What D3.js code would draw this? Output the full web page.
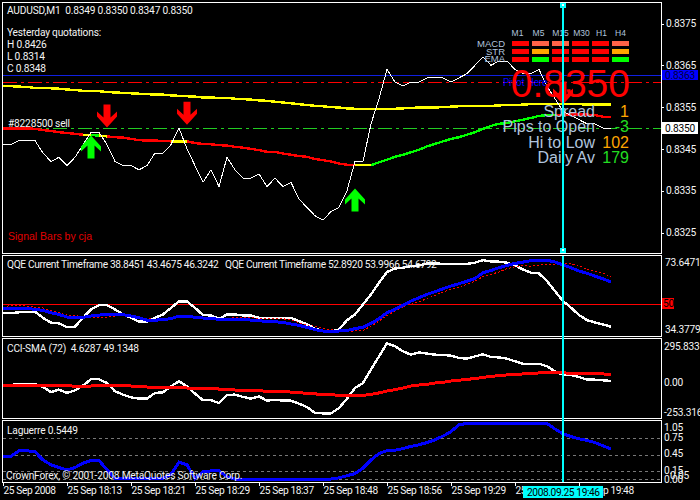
<!DOCTYPE html>
<html><head><meta charset="utf-8">
<script src="https://d3js.org/d3.v7.min.js"></script>
<style>
html,body{margin:0;padding:0;background:#000;overflow:hidden}
svg{display:block}
text{font-family:Roboto,"Liberation Sans",sans-serif;font-size:10.2px;fill:#f4f4f4;letter-spacing:-0.2px}
</style></head><body><div id="c"></div>
<script>
const closePrices=[.8346,.8346,.8347,.8347,.8347,.8344,.8342,.8343,.8341,.8343,.8346,.8349,.8349,.8346,.8342,.8341,.8341,.8340,.8341,.8344,.8344,.8346,.8350,.8345,.8341,.8337,.8340,.8336,.8343,.8340,.8338,.8338,.8339,.8336,.8338,.8336,.8337,.8333,.8331,.8329,.8328,.8330,.8331,.8335,.8342,.8342,.8351,.8357,.8364,.8361,.8360,.8361,.8361,.8362,.8362,.8362,.8361,.8362,.8363,.8365,.8367,.8365,.8366,.8366,.8364,.8363,.8363,.8364,.8360,.8357,.8354,.8353,.8352,.8351,.8351,.8350,.8350];
const slowMA=[.83601,.83600,.83599,.83598,.83596,.83596,.83595,.83594,.83592,.83591,.83589,.83589,.83588,.83586,.83585,.83584,.83583,.83582,.83581,.83580,.83580,.83578,.83577,.83576,.83575,.83573,.83573,.83572,.83572,.83570,.83569,.83568,.83566,.83565,.83563,.83561,.83559,.83557,.83555,.83553,.83552,.83550,.83549,.83547,.83546,.83546,.83546,.83546,.83546,.83546,.83547,.83548,.83549,.83549,.83549,.83550,.83551,.83552,.83552,.83553,.83553,.83553,.83554,.83555,.83555,.83556,.83557,.83557,.83557,.83557,.83557,.83557,.83557,.83556,.83556,.83556,.83556];
const trendMA=[.83499,.83499,.83499,.83499,.83498,.83495,.83493,.83490,.83488,.83486,.83484,.83483,.83482,.83480,.83478,.83477,.83474,.83471,.83470,.83470,.83469,.83468,.83468,.83468,.83464,.83462,.83461,.83459,.83458,.83455,.83453,.83450,.83447,.83443,.83443,.83439,.83436,.83433,.83431,.83426,.83423,.83420,.83415,.83412,.83411,.83411,.83411,.83418,.83424,.83431,.83436,.83442,.83448,.83456,.83462,.83468,.83474,.83478,.83484,.83490,.83498,.83505,.83510,.83512,.83516,.83520,.83524,.83529,.83531,.83531,.83532,.83532,.83532,.83532,.83531,.83527,.83527];
const trendStates=[["#ff0000",0,76],["#ffff00",10,13],["#ffff00",21,23],["#00ff00",11,12],["#ffff00",44,46],["#00ff00",46,69]];
const priceTicks=[.8375,.8365,.8355,.8345,.8335,.8325];
const pivotLevel=.83626, resistLevel=.8361, bidLevel=.8350;
const upArrows=[[11,.83482],[44,.83355]];
const downArrows=[[13,.83501],[23,.83508],[70,.83556]];
const qqeFast=[45.1,45.1,45.5,45.8,45.8,42.7,40.2,39.8,37.9,38.1,42.7,47.0,49.2,49.2,47.0,44.4,42.7,40.7,40.7,42.7,44.4,47.8,51.1,51.1,47.8,44.1,43.9,42.2,44.4,44.4,43.9,43.9,42.7,42.7,42.7,42.7,42.7,41.0,39.3,37.1,35.9,35.7,36.7,41.5,44.4,49.6,54.7,60.7,66.2,68.0,68.4,69.2,69.6,70.6,70.6,70.4,70.3,70.3,70.4,71.0,72.3,71.6,71.5,71.0,69.6,67.5,65.8,65.5,61.5,56.4,51.3,47.9,44.1,41.5,40.3,39.3,38.1];
const qqeSlow=[47.5,47.5,47.5,47.5,47.0,46.5,45.3,44.4,43.1,42.9,42.9,43.6,44.1,44.3,44.4,44.3,43.6,42.7,41.5,41.4,41.9,42.2,43.6,43.6,42.9,42.6,42.2,42.0,42.0,42.0,41.9,41.5,41.2,40.8,40.7,40.3,39.5,38.8,37.8,36.6,35.9,35.9,35.9,36.2,37.1,37.9,39.8,42.2,45.3,47.0,49.1,51.3,53.0,54.7,56.1,57.6,59.0,60.2,61.5,62.9,65.8,67.0,68.4,69.6,70.6,71.3,72.0,72.3,72.3,71.3,69.8,68.4,66.7,65.5,64.1,62.7,61.0];
const qqeSignal=[47.9,49.2,49.1,48.7,48.2,47.7,46.5,45.3,44.1,44.1,42.9,42.9,43.1,43.1,43.6,43.9,43.8,42.9,42.4,41.9,41.9,42.4,42.9,43.1,42.9,42.7,42.6,42.4,42.2,42.9,42.9,42.9,42.4,42.2,42.2,42.2,41.5,40.2,39.1,38.3,37.2,36.6,36.0,35.4,36.0,36.2,38.4,41.0,43.9,46.1,48.4,50.1,50.8,52.6,54.2,55.9,57.3,58.5,59.8,61.5,63.8,65.0,66.2,67.9,68.9,69.6,69.2,69.8,69.8,70.3,70.4,70.4,69.6,67.5,66.7,65.7,63.8];
const cciLine=[-28,-24,-17,-17,-17,-38,-73,-56,-79,-61,-28,16,16,-10,-68,-91,-110,-119,-119,-79,-75,-33,2,-33,-84,-130,-130,-149,-93,-91,-107,-119,-103,-133,-126,-133,-133,-154,-177,-218,-221,-221,-184,-119,-45,-10,83,175,266,245,210,187,203,194,187,185,180,164,159,175,189,171,168,159,141,124,124,124,106,71,48,46,32,13,13,9,4];
const cciSma=[-26,-26,-26,-26,-26,-26,-26,-26,-28,-33,-33,-31,-26,-26,-26,-28,-31,-33,-38,-40,-40,-42,-42,-45,-47,-49,-49,-52,-54,-59,-61,-61,-63,-68,-70,-70,-73,-77,-82,-86,-89,-91,-96,-98,-96,-96,-89,-79,-66,-56,-45,-31,-24,-19,-10,-5,4,9,16,20,29,36,41,46,48,53,55,60,62,62,62,55,55,55,55,53,48];
const laguerre=[.42,.42,.52,.52,.50,.35,.26,.21,.17,.21,.29,.34,.34,.17,.01,.01,.01,.01,.01,.01,.01,.09,.31,.26,.01,.13,.15,.15,.04,0,0,0,0,0,0,0,0,0,0,0,0,0,.02,.06,.10,.20,.35,.47,.52,.53,.56,.60,.63,.67,.72,.79,.87,1.0,1.02,1.02,1.02,1.02,1.02,1.02,1.02,1.02,1.02,1.02,1.02,.92,.83,.78,.74,.71,.67,.61,.55];
const laguerreLevels=[.75,.45,.15,0];
const timeTickBars=[0,8,16,24,32,40,48,56,64,72];
const timeTickLabels=["25 Sep 2008","25 Sep 18:13","25 Sep 18:21","25 Sep 18:29","25 Sep 18:37","25 Sep 18:48","25 Sep 18:56","25 Sep 19:29","25 Sep 19:37","25 Sep 19:48"];
const timeframes=["M1","M5","M15","M30","H1","H4"];
const signalRows=["MACD","STR","EMA"];
const macdColors=["#ff0000","#ff6347","#ff6347","#ff0000","#ff0000","#ff6347"];
const strColors=["#ff0000","#ffa500","#ff0000","#ff0000","#ff0000","#ffa500"];
const emaColors=["#ff0000","#00ff00","#ff0000","#ff0000","#ff0000","#00ff00"];
const statLabels=["Spread","Pips to Open","Hi to Low","Daily Av"];
const statValues=["1","-3","102","179"];
const statColors=["#ffa500","#22dd22","#ffa500","#22dd22"];

const svg=d3.select("#c").append("svg").attr("width",700).attr("height",500);
svg.append("rect").attr("width",700).attr("height",500).attr("fill","#000");
const crisp=s=>s.attr("shape-rendering","crispEdges");
const R=661;
const ARIAL='"Liberation Sans",Arial,sans-serif';
const x=d3.scaleLinear().domain([0,76]).range([3,611]);
const yP=d3.scaleLinear().domain([.8325,.8375]).range([232.5,23.5]);
const yQ=d3.scaleLinear().domain([34.3779,73.6471]).range([334,257.5]);
const yC=d3.scaleLinear().domain([-253.316,295.8335]).range([418,339]);
const yL=d3.scaleLinear().domain([0,1.05]).range([479,421.9]);

[[2.5,253.5],[255.5,336.5],[338.5,418.5],[420.5,482.5]].forEach(([a,b])=>{
  crisp(svg.append("rect").attr("x",2.5).attr("y",a).attr("width",R-2.5+.5).attr("height",b-a)
   .attr("fill","none").attr("stroke","#fff"));
});
const hline=(y,col,dash,w=1,x2=R)=>crisp(svg.append("line").attr("x1",3).attr("x2",x2).attr("y1",y).attr("y2",y)
   .attr("stroke",col).attr("stroke-width",w).attr("stroke-dasharray",dash||null));
const drawLine=(vals,yS,col,w,dash,from=0,to=76)=>{
  const l=d3.line().x((d,i)=>x(i+from)).y(d=>yS(d));
  return crisp(svg.append("path").attr("d",l(vals.slice(from,to+1))).attr("fill","none")
    .attr("stroke",col).attr("stroke-width",w).attr("stroke-dasharray",dash||null));
};
hline(Math.round(yP(pivotLevel))+.5,"#1020e0");
hline(Math.round(yP(resistLevel))+.5,"#ff0000","14 4 3 4");
hline(Math.round(yP(bidLevel))+.5,"#22cc22","14 4 3 4");
drawLine(slowMA,yP,"#ffff00",2.4);
trendStates.forEach(([c,a,b])=>drawLine(trendMA,yP,c,2.4,null,a,b));
drawLine(closePrices,yP,"#fff",1);
const arrow=(i,p,up)=>{
  const s=up?1:-1,t=yP(p),cx=x(i);
  const pts=[[0,0],[10,11],[10,16],[3.5,10],[3.5,23],[-3.5,23],[-3.5,10],[-10,16],[-10,11]];
  svg.append("path").attr("d",d3.line()(pts.map(([a,b])=>[cx+a,t+s*b]))+"Z")
    .attr("fill",up?"#00ff00":"#ff0000");
};
upArrows.forEach(d=>arrow(d[0],d[1],true));
downArrows.forEach(d=>arrow(d[0],d[1],false));
const T=(str,px,py,o={})=>{
  const t=svg.append("text").attr("x",px).attr("y",py).text(str)
   .attr("text-anchor",o.a||"start").style("font-size",o.s?o.s+"px":null).style("fill",o.c||null)
   .style("font-family",o.f||null).style("white-space","pre");
  if(o.f||o.ls!=null) t.style("letter-spacing",(o.ls||0)+"px");
  return t;
};
T("AUDUSD,M1  0.8349 0.8350 0.8347 0.8350",7,14);
T("Yesterday quotations:",7,36);
T("H 0.8426",7,48);T("L 0.8314",7,60);T("C 0.8348",7,72);
T("#8228500 sell",8,127);
T("Signal Bars by cja",8,240,{c:"#e00000",s:10.5,f:ARIAL});
T("Pivot Here",503,86,{c:"#0000ff",s:10});
const bandX=d3.scaleBand().domain(timeframes).range([512,629]).paddingInner(.15).paddingOuter(0);
const bandY=d3.scaleBand().domain(signalRows).range([41,62]).paddingInner(.4);
const headShift=[-3,-2,0,1,1,0];
timeframes.forEach((t,i)=>T(t,bandX(t)+bandX.bandwidth()/2+headShift[i],36,{a:"middle",s:8.5,c:"#b0c4de",f:ARIAL}));
signalRows.forEach((r,j)=>{
  T(r,505,[47,54.5,62][j],{a:"end",s:9.5,c:"#b0c4de",f:ARIAL});
  [macdColors,strColors,emaColors][j].forEach((c,k)=>crisp(svg.append("rect")
    .attr("x",bandX(timeframes[k])).attr("y",bandY(r)).attr("width",bandX.bandwidth()).attr("height",bandY.bandwidth()).attr("fill",c)));
});
T("0.8350",630,97,{a:"end",s:39,c:"#ff0000",f:ARIAL});
statLabels.forEach((s,i)=>{
  const by=[117,132,148,163][i];
  T(s,595,by,{a:"end",s:16,c:"#b0c4de",f:ARIAL});
  T(statValues[i],629,by,{a:"end",s:16,c:statColors[i],f:ARIAL});
});
const axP=svg.append("g").attr("transform",`translate(${R},0)`)
  .call(d3.axisRight(yP).tickValues(priceTicks).tickFormat(d3.format(".4f")).tickSize(3).tickPadding(2));
hline(Math.round(yQ(50))+.5,"#ff0000");
drawLine(qqeFast,yQ,"#fff",2.4);
drawLine(qqeSignal,yQ,"#ff0000",1,"2 2");
drawLine(qqeSlow,yQ,"#0000ff",3);
T("QQE Current Timeframe 38.8451 43.4675 46.3242",7,268,{ls:-0.33});
T("QQE Current Timeframe 52.8920 53.9966 54.6792",225,268,{ls:-0.33});
drawLine(cciLine,yC,"#fff",2.4);
drawLine(cciSma,yC,"#ff0000",3);
T("CCI-SMA (72)  4.6287 49.1348",7,352);
laguerreLevels.forEach(v=>hline(Math.round(yL(v))+.5,"#777","3 3"));
drawLine(laguerre,yL,"#0000ff",3);
T("Laguerre 0.5449",7,434);
T("CrownForex, © 2001-2008 MetaQuotes Software Corp.",6,479);
[["73.6471",665,266],["34.3779",665,333],["295.8335",664,350],["0.00",664,386],["-253.316",664,416],
 ["1.05",664,431],["0.75",664,441],["0.45",664,457],["0.15",664,474],["0.05",670,479],["0.00",664,483]]
 .forEach(d=>T(d[0],d[1],d[2]));
crisp(svg.append("rect").attr("x",662).attr("y",70).attr("width",36).attr("height",10).attr("fill","#0000ff"));
T("0.8363",665,79,{c:"#000040"});
crisp(svg.append("rect").attr("x",662).attr("y",122).attr("width",36).attr("height",12).attr("fill","#fff"));
T("0.8350",665,132,{c:"#000"});
crisp(svg.append("rect").attr("x",662).attr("y",298).attr("width",12).attr("height",11).attr("fill","#ff0000"));
T("50",663,307,{c:"#000"});
const axT=svg.append("g").attr("transform","translate(0,482)")
  .call(d3.axisBottom(x).tickValues(timeTickBars).tickFormat((d,i)=>timeTickLabels[i]).tickSize(4).tickPadding(4));
axT.selectAll("text").attr("text-anchor","start").attr("dx",0).attr("y",5).attr("dy","0.71em").style("letter-spacing","-0.4px");
[axP,axT].forEach(a=>{
  a.select(".domain").remove();
  a.selectAll("line").attr("stroke","#fff").attr("shape-rendering","crispEdges");
  a.selectAll("text").style("fill","#f4f4f4").attr("font-family",null).attr("font-size",null);
});
const cx=x(70);
crisp(svg.append("line").attr("x1",cx).attr("x2",cx).attr("y1",3).attr("y2",253).attr("stroke","#00ffff").attr("stroke-width",2));
crisp(svg.append("line").attr("x1",cx).attr("x2",cx).attr("y1",256).attr("y2",482).attr("stroke","#00ffff").attr("stroke-width",2));
[5,250].forEach(y=>{crisp(svg.append("rect").attr("x",cx-3).attr("y",y-2.5).attr("width",6).attr("height",5).attr("fill","#00ffff"));
 crisp(svg.append("rect").attr("x",cx-1).attr("y",y-1).attr("width",2).attr("height",2).attr("fill","#fff"));});
crisp(svg.append("rect").attr("x",523).attr("y",486).attr("width",80).attr("height",12).attr("fill","#00ffff"));
T("2008.09.25 19:46",527,496,{c:"#000",ls:-0.4});
</script></body></html>
